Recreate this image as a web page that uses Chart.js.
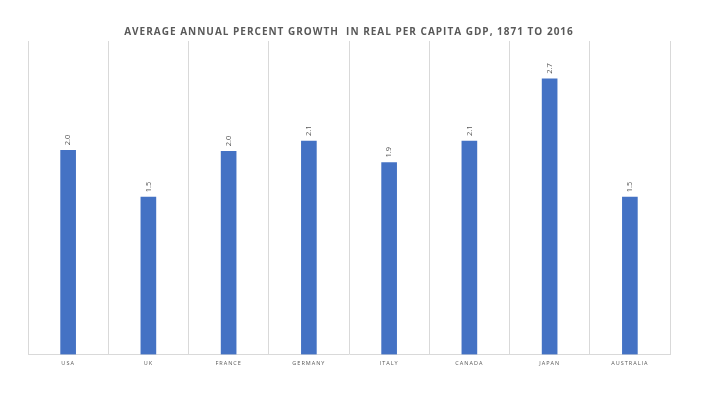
<!DOCTYPE html>
<html>
<head>
<meta charset="utf-8">
<script src="https://cdn.jsdelivr.net/npm/chart.js@4"></script>
<style>
  html, body { margin: 0; padding: 0; background: #ffffff; }
  #wrap { width: 720px; height: 405px; position: relative; }
</style>
</head>
<body>
<div id="wrap"><canvas id="c"></canvas></div>
<script>
const categories = ["USA", "UK", "FRANCE", "GERMANY", "ITALY", "CANADA", "JAPAN", "AUSTRALIA"];
const growthValues = [2.00, 1.54, 1.99, 2.09, 1.88, 2.09, 2.70, 1.54];
const chartTitle = "AVERAGE ANNUAL PERCENT GROWTH  IN REAL PER CAPITA GDP, 1871 TO 2016";

const spacingPlugin = {
  id: 'spacing',
  beforeDraw(chart) {
    chart.ctx.letterSpacing = '1px';
  }
};

const valueLabels = {
  id: 'valueLabels',
  afterDatasetsDraw(chart) {
    const ctx = chart.ctx;
    const meta = chart.getDatasetMeta(0);
    ctx.save();
    ctx.letterSpacing = '0px';
    ctx.fillStyle = '#595959';
    ctx.font = '7.5px "Open Sans", "Liberation Sans", sans-serif';
    ctx.textAlign = 'left';
    ctx.textBaseline = 'middle';
    meta.data.forEach((bar, i) => {
      ctx.save();
      ctx.translate(bar.x, bar.y - 5);
      ctx.rotate(-Math.PI / 2);
      ctx.fillText(growthValues[i].toFixed(1), 0, 0);
      ctx.restore();
    });
    ctx.restore();
  }
};

new Chart(document.getElementById('c'), {
  type: 'bar',
  data: {
    labels: categories,
    datasets: [{
      data: growthValues,
      backgroundColor: '#4472C4',
      borderWidth: 0,
      barThickness: 15
    }]
  },
  options: {
    responsive: true,
    maintainAspectRatio: false,
    animation: false,
    layout: { padding: { left: 28, right: 50, top: 0, bottom: 32 } },
    plugins: {
      legend: { display: false },
      tooltip: { enabled: false },
      title: {
        display: true,
        text: chartTitle,
        color: '#595959',
        font: { family: '"Open Sans", "Liberation Sans", sans-serif', size: 10, weight: 'bold' },
        padding: { top: 26, bottom: 3 }
      }
    },
    scales: {
      x: {
        grid: { display: true, offset: true, color: '#d9d9d9', lineWidth: 1, drawTicks: false },
        border: { display: true, color: '#d9d9d9' },
        ticks: {
          color: '#595959',
          padding: 6,
          font: { family: '"Open Sans", "Liberation Sans", sans-serif', size: 5.5 },
          maxRotation: 0
        }
      },
      y: {
        display: false,
        min: 0,
        max: 3.07
      }
    }
  },
  plugins: [spacingPlugin, valueLabels]
});
</script>
</body>
</html>
